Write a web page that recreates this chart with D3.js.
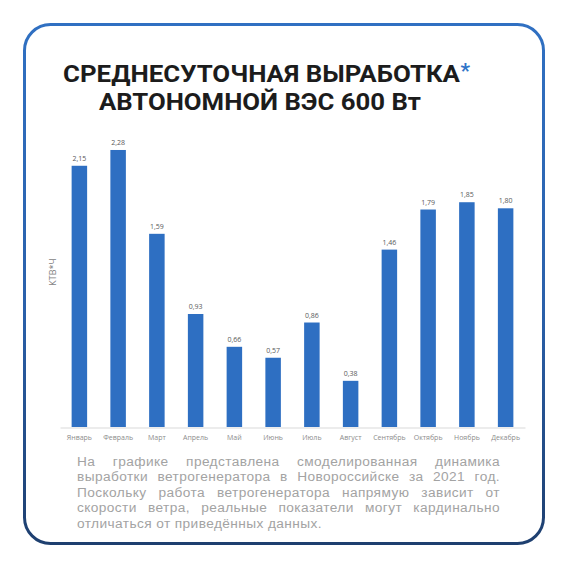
<!DOCTYPE html>
<html>
<head>
<meta charset="utf-8">
<script src="https://cdn.jsdelivr.net/npm/d3@7"></script>
<style>
html,body{margin:0;padding:0;background:#fff;}
svg{display:block;}
</style>
</head>
<body>
<svg id="chart" width="570" height="570"></svg>
<script>
const months = ["Январь","Февраль","Март","Апрель","Май","Июнь","Июль","Август","Сентябрь","Октябрь","Ноябрь","Декабрь"];
const values = [2.15,2.28,1.59,0.93,0.66,0.57,0.86,0.38,1.46,1.79,1.85,1.80];
const valueLabels = ["2,15","2,28","1,59","0,93","0,66","0,57","0,86","0,38","1,46","1,79","1,85","1,80"];
const titleLines = ["СРЕДНЕСУТОЧНАЯ ВЫРАБОТКА","АВТОНОМНОЙ ВЭС 600 Вт"];
const yAxisTitle = "КТВ*Ч";
const noteLines = [
  "На графике представлена смоделированная динамика",
  "выработки ветрогенератора в Новороссийске за 2021 год.",
  "Поскольку работа ветрогенератора напрямую зависит от",
  "скорости ветра, реальные показатели могут кардинально",
  "отличаться от приведённых данных."
];

const svg = d3.select("#chart");
const defs = svg.append("defs");
const grad = defs.append("linearGradient").attr("id","frameGrad")
  .attr("x1","0").attr("y1","0").attr("x2","0").attr("y2","1");
grad.append("stop").attr("offset","0%").attr("stop-color","#3070c2");
grad.append("stop").attr("offset","55%").attr("stop-color","#2a60aa");
grad.append("stop").attr("offset","100%").attr("stop-color","#1e3f6f");

svg.append("rect").attr("x",24.5).attr("y",24.5).attr("width",519).attr("height",519)
  .attr("rx",26).attr("ry",26).attr("fill","#fff")
  .attr("stroke","url(#frameGrad)").attr("stroke-width",3);

// Title
const tFont = "Roboto, Inter, 'Noto Sans', sans-serif";
svg.append("text").attr("x",63).attr("y",82).text(titleLines[0])
  .attr("font-family",tFont).attr("font-weight",700).attr("font-size",24)
  .attr("fill","#1c1c1c").attr("textLength",397).attr("lengthAdjust","spacingAndGlyphs");
svg.append("text").attr("x",460.5).attr("y",78).text("*")
  .attr("font-family",tFont).attr("font-weight",700).attr("font-size",21)
  .attr("fill","#2f74c8");
svg.append("text").attr("x",99).attr("y",110).text(titleLines[1])
  .attr("font-family",tFont).attr("font-weight",700).attr("font-size",24)
  .attr("fill","#1c1c1c").attr("textLength",322).attr("lengthAdjust","spacingAndGlyphs");

// Chart
const x = d3.scaleBand().domain(months).range([60,525]).paddingInner(0.6).paddingOuter(0.3);
const y = d3.scaleLinear().domain([0,2.5]).range([427,123.25]);
const data = months.map((m,i)=>({m, v:values[i], l:valueLabels[i]}));

svg.append("g").selectAll("rect").data(data).join("rect")
  .attr("x",d=>x(d.m)).attr("y",d=>y(d.v))
  .attr("width",x.bandwidth()).attr("height",d=>y(0)-y(d.v))
  .attr("fill","#2e6fc2");

svg.append("g").selectAll("text").data(data).join("text")
  .attr("x",d=>x(d.m)+x.bandwidth()/2).attr("y",d=>y(d.v)-5)
  .attr("text-anchor","middle").attr("font-family","'Open Sans', sans-serif")
  .attr("font-size",7).attr("fill","#595959").text(d=>d.l);

const xAxis = svg.append("g").attr("transform","translate(0,427.5)")
  .call(d3.axisBottom(x).tickSize(0).tickPadding(8));
xAxis.select(".domain").attr("stroke","#d9d9d9").attr("stroke-width",1);
xAxis.selectAll("text").attr("font-family","'Open Sans', sans-serif")
  .attr("font-size",7).attr("fill","#8c8c8c");

svg.append("text").attr("transform","translate(56,272) rotate(-90)")
  .attr("text-anchor","middle").attr("font-family","'Open Sans', sans-serif")
  .attr("font-size",9).attr("fill","#7f7f7f").text(yAxisTitle);

// Note paragraph, justified: one text per line, word spacing fills the column
const noteX0 = 77, noteX1 = 500, noteY0 = 466, noteLH = 15.4;
const nFont = "'Liberation Sans', Arial, sans-serif";
const nSize = 13.7;
noteLines.forEach((line,li)=>{
  const t = svg.append("text").attr("x",noteX0).attr("y",noteY0+li*noteLH)
    .attr("font-family",nFont).attr("font-size",nSize).attr("fill","#a3a3a3")
    .style("letter-spacing","0.4px").text(line);
  if (li < noteLines.length-1) {
    const nat = t.node().getComputedTextLength();
    const spaces = line.split(" ").length-1;
    const ws = Math.max(0,(noteX1-noteX0-nat)/spaces);
    t.style("word-spacing",ws+"px");
  }
});
</script>
</body>
</html>
